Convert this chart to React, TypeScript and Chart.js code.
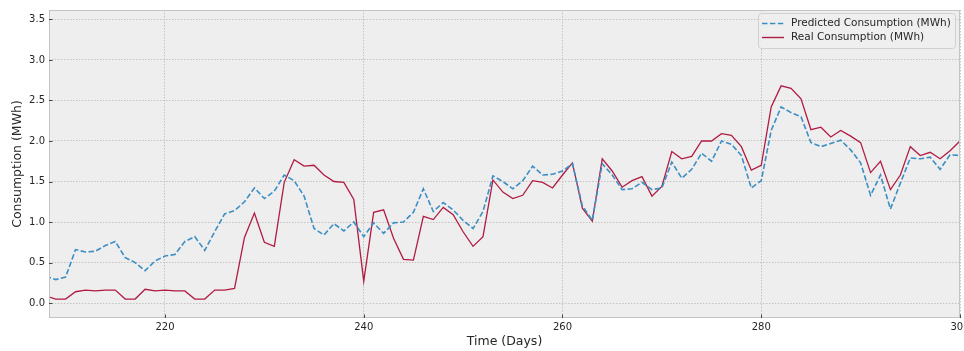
import { useEffect, useRef } from 'react';
import { Chart, registerables } from 'chart.js';

Chart.register(...registerables);

const days = [
  208, 209, 210, 211, 212, 213, 214, 215, 216, 217, 218, 219, 220, 221, 222, 223, 224, 225, 226, 227,
  228, 229, 230, 231, 232, 233, 234, 235, 236, 237, 238, 239, 240, 241, 242, 243, 244, 245, 246, 247,
  248, 249, 250, 251, 252, 253, 254, 255, 256, 257, 258, 259, 260, 261, 262, 263, 264, 265, 266, 267,
  268, 269, 270, 271, 272, 273, 274, 275, 276, 277, 278, 279, 280, 281, 282, 283, 284, 285, 286, 287,
  288, 289, 290, 291, 292, 293, 294, 295, 296, 297, 298, 299, 300,
];

const predicted = [
  0.33, 0.29, 0.32, 0.66, 0.63, 0.64, 0.71, 0.76, 0.56, 0.5, 0.4, 0.52, 0.58, 0.6, 0.76, 0.82, 0.65, 0.88, 1.1, 1.14,
  1.25, 1.42, 1.29, 1.38, 1.58, 1.51, 1.32, 0.92, 0.84, 0.98, 0.89, 1.0, 0.82, 0.99, 0.86, 0.99, 1.0, 1.12, 1.41, 1.13,
  1.24, 1.15, 1.02, 0.92, 1.13, 1.57, 1.5, 1.41, 1.51, 1.69, 1.58, 1.59, 1.63, 1.72, 1.2, 1.02, 1.72, 1.58, 1.4, 1.41,
  1.49, 1.4, 1.42, 1.74, 1.54, 1.65, 1.85, 1.75, 2.0, 1.96, 1.82, 1.42, 1.51, 2.13, 2.42, 2.35, 2.3, 1.98, 1.93, 1.97,
  2.01, 1.89, 1.73, 1.33, 1.58, 1.16, 1.48, 1.79, 1.78, 1.8, 1.65, 1.83, 1.82,
];

const real = [
  0.09, 0.05, 0.05, 0.14, 0.16, 0.15, 0.16, 0.16, 0.05, 0.05, 0.17, 0.15, 0.16, 0.15, 0.15, 0.05, 0.05, 0.16, 0.16, 0.18,
  0.81, 1.11, 0.75, 0.7, 1.49, 1.77, 1.69, 1.7, 1.58, 1.5, 1.49, 1.28, 0.27, 1.12, 1.15, 0.8, 0.54, 0.53, 1.07, 1.03,
  1.18, 1.09, 0.88, 0.7, 0.82, 1.52, 1.37, 1.29, 1.33, 1.51, 1.49, 1.42, 1.58, 1.73, 1.17, 1.01, 1.78, 1.63, 1.43, 1.51,
  1.56, 1.32, 1.44, 1.87, 1.78, 1.81, 2.0, 2.0, 2.09, 2.07, 1.93, 1.64, 1.7, 2.42, 2.68, 2.65, 2.52, 2.14, 2.17, 2.05,
  2.13, 2.06, 1.98, 1.61, 1.75, 1.4, 1.58, 1.93, 1.82, 1.86, 1.78, 1.88, 2.0,
];

const xTicks = [220, 240, 260, 280, 300];
const yTicks = [0, 0.5, 1.0, 1.5, 2.0, 2.5, 3.0, 3.5];

const seriesLabels = ['Predicted Consumption (MWh)', 'Real Consumption (MWh)'];

const BLUE = '#3C8FC4';
const RED = '#B01B42';
const FONT = "'DejaVu Sans', sans-serif";

const styling = {
  id: 'styling',
  beforeDraw(chart: any) {
    const { ctx, chartArea: a } = chart;
    ctx.save();
    ctx.fillStyle = '#eeeeee';
    ctx.fillRect(a.left, a.top, a.right - a.left, a.bottom - a.top);
    ctx.restore();
  },
  afterDraw(chart: any) {
    const { ctx, chartArea: a, scales } = chart;
    ctx.save();
    // frame
    ctx.strokeStyle = '#c4c4c4';
    ctx.lineWidth = 1;
    ctx.strokeRect(a.left + 0.5, a.top + 0.5, a.right - a.left - 1, a.bottom - a.top - 1);
    // inward ticks
    ctx.strokeStyle = '#444';
    ctx.beginPath();
    for (const v of yTicks) {
      const y = Math.round(scales.y.getPixelForValue(v)) + 0.5;
      ctx.moveTo(a.left, y);
      ctx.lineTo(a.left + 3.5, y);
    }
    for (const v of xTicks) {
      const x = Math.round(scales.x.getPixelForValue(v)) + 0.5;
      ctx.moveTo(x, a.bottom);
      ctx.lineTo(x, a.bottom - 3.5);
    }
    ctx.stroke();

    // legend
    const lx = 758, ly = 13, lw = 197, lh = 35;
    ctx.beginPath();
    ctx.roundRect(lx + 0.5, ly + 0.5, lw, lh, 3);
    ctx.fillStyle = 'rgba(238,238,238,0.85)';
    ctx.fill();
    ctx.strokeStyle = '#d0d0d0';
    ctx.stroke();
    const rows = [
      { y: 23.5, color: BLUE, dash: [5.5, 2.4], width: 1.6 },
      { y: 37.5, color: RED, dash: [], width: 1.4 },
    ];
    rows.forEach((r, i) => {
      ctx.beginPath();
      ctx.setLineDash(r.dash);
      ctx.strokeStyle = r.color;
      ctx.lineWidth = r.width;
      ctx.moveTo(762, r.y);
      ctx.lineTo(784, r.y);
      ctx.stroke();
      ctx.setLineDash([]);
      ctx.fillStyle = '#262626';
      ctx.font = `10.5px ${FONT}`;
      ctx.textBaseline = 'middle';
      ctx.textAlign = 'left';
      ctx.fillText(chart.data.datasets[i].label, 791, r.y);
    });
    ctx.restore();
  },
};

export default function App() {
  const ref = useRef<HTMLCanvasElement | null>(null);

  useEffect(() => {
    if (!ref.current) return;
    const chart = new Chart(ref.current, {
      type: 'line',
      data: {
        datasets: [
          {
            label: seriesLabels[0],
            data: days.map((d, i) => ({ x: d, y: predicted[i] })),
            borderColor: BLUE,
            borderWidth: 1.6,
            borderDash: [5.5, 2.4],
            pointRadius: 0,
            tension: 0,
            fill: false,
            clip: 0,
          },
          {
            label: seriesLabels[1],
            data: days.map((d, i) => ({ x: d, y: real[i] })),
            borderColor: RED,
            borderWidth: 1.3,
            pointRadius: 0,
            tension: 0,
            fill: false,
            clip: 0,
          },
        ],
      },
      options: {
        animation: false,
        responsive: false,
        events: [],
        layout: { padding: { left: 0, right: 4, top: 10, bottom: 0 } },
        plugins: {
          legend: { display: false },
          tooltip: { enabled: false },
        },
        scales: {
          x: {
            type: 'linear',
            min: 208.33,
            max: 300,
            afterBuildTicks: (s: any) => {
              s.ticks = xTicks.map((v) => ({ value: v }));
            },
            afterFit: (s: any) => {
              s.height = 33;
              s.paddingLeft = 0;
              s.paddingRight = 0;
            },
            grid: { color: '#b8b8b8', lineWidth: 0.8, drawTicks: false },
            border: { display: false, dash: [1.5, 1.5] },
            ticks: {
              padding: 3,
              color: '#262626',
              font: { family: FONT, size: 10 },
              maxRotation: 0,
              autoSkip: false,
              callback: (v: any) => String(v),
            },
            title: {
              display: true,
              text: 'Time (Days)',
              color: '#262626',
              font: { family: FONT, size: 12.5 },
              padding: { top: 0, bottom: 2 },
            },
          },
          y: {
            type: 'linear',
            min: -0.184,
            max: 3.616,
            afterBuildTicks: (s: any) => {
              s.ticks = yTicks.map((v) => ({ value: v }));
            },
            afterFit: (s: any) => {
              s.width = 49;
              s.paddingTop = 0;
              s.paddingBottom = 0;
            },
            grid: { color: '#b8b8b8', lineWidth: 0.8, drawTicks: false },
            border: { display: false, dash: [1.5, 1.5] },
            ticks: {
              padding: 4,
              color: '#262626',
              font: { family: FONT, size: 10 },
              autoSkip: false,
              callback: (v: any) => Number(v).toFixed(1),
            },
            title: {
              display: true,
              text: 'Consumption (MWh)',
              color: '#262626',
              font: { family: FONT, size: 12.5 },
              padding: { top: 10, bottom: 0 },
            },
          },
        },
      },
      plugins: [styling],
    });
    return () => chart.destroy();
  }, []);

  return (
    <div style={{ position: 'absolute', left: 0, top: 0, width: 964, height: 351 }}>
      <canvas ref={ref} width={964} height={351} style={{ display: 'block' }} />
    </div>
  );
}
